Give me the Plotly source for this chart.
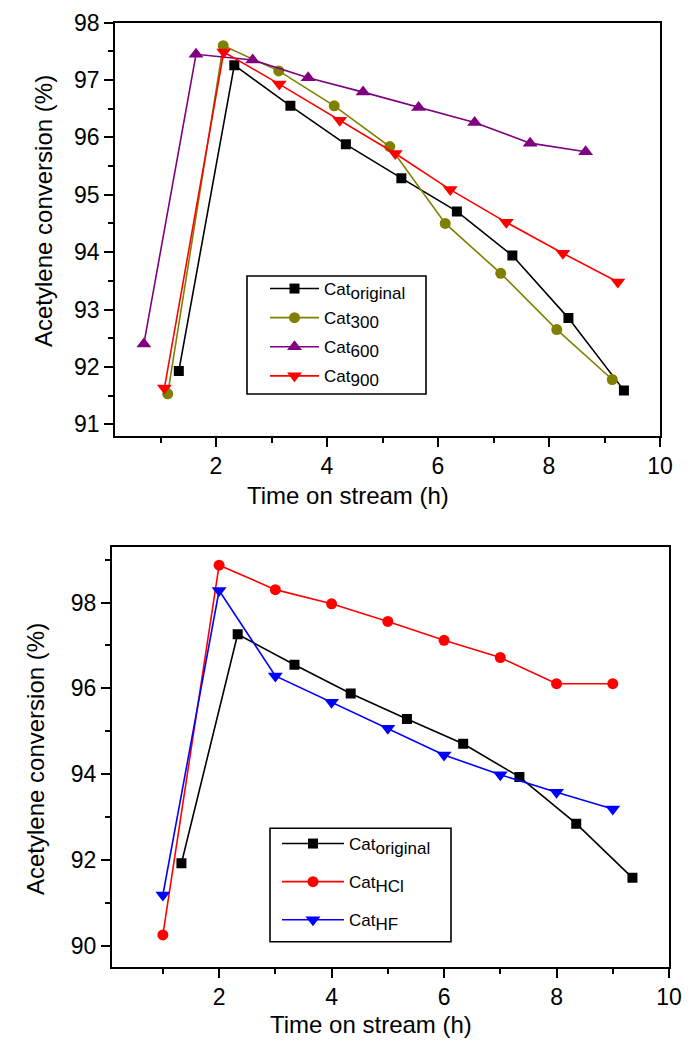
import plotly.graph_objects as go

# figure is placed by the page at an 8px body offset; keep reference pixel positions
OX, OY = 8, 8
W, H = 685, 1036

# ---------- data: top panel ----------
t_orig = [1.33, 2.33, 3.34, 4.34, 5.34, 6.34, 7.34, 8.35, 9.35]
y_orig = [91.93, 97.26, 96.55, 95.88, 95.29, 94.71, 93.94, 92.85, 91.59]

t_300 = [1.13, 2.13, 3.13, 4.13, 5.13, 6.13, 7.13, 8.14, 9.14]
y_300 = [91.53, 97.60, 97.16, 96.55, 95.84, 94.50, 93.63, 92.65, 91.78]

t_600 = [0.70, 1.64, 2.66, 3.66, 4.65, 5.65, 6.66, 7.66, 8.66]
y_600 = [92.40, 97.45, 97.35, 97.04, 96.79, 96.52, 96.26, 95.90, 95.75]

t_900 = [1.07, 2.14, 3.14, 4.23, 5.23, 6.22, 7.23, 8.25, 9.24]
y_900 = [91.63, 97.49, 96.93, 96.30, 95.72, 95.09, 94.52, 93.98, 93.48]

# ---------- data: bottom panel ----------
t_hcl = [1, 2, 3, 4, 5, 6, 7, 8, 9]
y_hcl = [90.26, 98.87, 98.30, 97.97, 97.56, 97.12, 96.72, 96.11, 96.11]

t_hf = [1, 2, 3, 4, 5, 6, 7, 8, 9]
y_hf = [91.19, 98.28, 96.29, 95.68, 95.07, 94.45, 93.99, 93.58, 93.19]

subs_top = ["original", "300", "600", "900"]
subs_bot = ["original", "HCl", "HF"]

FONT = "Liberation Sans, Arial, sans-serif"


def px(x):
    return (x - OX) / W


def py(y):
    return 1 - (y - OY) / H


def lab(sub):
    return 'Cat<sub><span style="font-size:17px">%s</span></sub>' % sub


fig = go.Figure()


def add(x, y, name, color, symbol, size, xa, ya, leg, grp):
    fig.add_trace(go.Scatter(
        x=x, y=y, name=name, mode="lines+markers",
        line=dict(color=color, width=1.6),
        marker=dict(color=color, symbol=symbol, size=size),
        xaxis=xa, yaxis=ya, legend=leg, legendgroup=grp,
    ))


add(t_orig, y_orig, lab(subs_top[0]), "#000000", "square", 10, "x", "y", "legend", "a1")
add(t_300, y_300, lab(subs_top[1]), "#808000", "circle", 11, "x", "y", "legend", "a2")
add(t_600, y_600, lab(subs_top[2]), "#800080", "triangle-up", 13, "x", "y", "legend", "a3")
add(t_900, y_900, lab(subs_top[3]), "#FF0000", "triangle-down", 13, "x", "y", "legend", "a4")

add(t_orig, y_orig, lab(subs_bot[0]), "#000000", "square", 10, "x2", "y2", "legend2", "b1")
add(t_hcl, y_hcl, lab(subs_bot[1]), "#FF0000", "circle", 11, "x2", "y2", "legend2", "b2")
add(t_hf, y_hf, lab(subs_bot[2]), "#0000FF", "triangle-down", 13, "x2", "y2", "legend2", "b3")

axis_common = dict(
    showline=True, mirror=True, linecolor="black", linewidth=1.6,
    ticks="outside", ticklen=9, tickwidth=1.5, tickcolor="black",
    showgrid=False, zeroline=False, automargin=False,
    tickfont=dict(family=FONT, size=23, color="black"),
)
minor_common = dict(ticks="outside", ticklen=5, tickwidth=1.5, tickcolor="black", showgrid=False)

fig.update_layout(
    width=W, height=H,
    margin=dict(l=0, r=0, t=0, b=0, pad=0, autoexpand=False),
    paper_bgcolor="white", plot_bgcolor="white",
    showlegend=True,
    xaxis=dict(domain=[px(115), px(660)], range=[0.18, 10], anchor="y",
               tick0=0, dtick=2, minor=dict(dtick=1, **minor_common), **axis_common),
    yaxis=dict(domain=[py(435.7), py(22.7)], range=[90.8, 98], anchor="x",
               tick0=0, dtick=1, minor=dict(dtick=0.5, **minor_common), **axis_common),
    xaxis2=dict(domain=[px(111.7), px(669)], range=[0.09, 10], anchor="y2",
                tick0=0, dtick=2, minor=dict(dtick=1, **minor_common), **axis_common),
    yaxis2=dict(domain=[py(966.7), py(546.7)], range=[89.52, 99.3], anchor="x2",
                tick0=0, dtick=2, minor=dict(dtick=1, **minor_common), **axis_common),
    legend=dict(x=px(265), y=py(271), xanchor="left", yanchor="top",
                bgcolor="rgba(0,0,0,0)", borderwidth=0, tracegroupgap=4, itemwidth=49,
                font=dict(family=FONT, size=17, color="black")),
    legend2=dict(x=px(277), y=py(826), xanchor="left", yanchor="top",
                 bgcolor="rgba(0,0,0,0)", borderwidth=0, tracegroupgap=13, itemwidth=62,
                 font=dict(family=FONT, size=17, color="black")),
    shapes=[
        dict(type="rect", xref="paper", yref="paper",
             x0=px(247), x1=px(426), y0=py(394), y1=py(276),
             line=dict(color="black", width=1.6)),
        dict(type="rect", xref="paper", yref="paper",
             x0=px(270), x1=px(451), y0=py(941.7), y1=py(828.3),
             line=dict(color="black", width=1.6)),
    ],
    annotations=[
        dict(text="Acetylene conversion (%)", x=px(43), y=py(211), xref="paper", yref="paper",
             textangle=-90, showarrow=False, xanchor="center", yanchor="middle",
             font=dict(family=FONT, size=24, color="black")),
        dict(text="Time on stream (h)", x=px(245), y=py(495), xref="paper", yref="paper",
             showarrow=False, xanchor="left", yanchor="middle",
             font=dict(family=FONT, size=24, color="black")),
        dict(text="Acetylene conversion (%)", x=px(35), y=py(759), xref="paper", yref="paper",
             textangle=-90, showarrow=False, xanchor="center", yanchor="middle",
             font=dict(family=FONT, size=24, color="black")),
        dict(text="Time on stream (h)", x=px(268), y=py(1024), xref="paper", yref="paper",
             showarrow=False, xanchor="left", yanchor="middle",
             font=dict(family=FONT, size=24, color="black")),
    ],
)

fig.write_html("out.html")
